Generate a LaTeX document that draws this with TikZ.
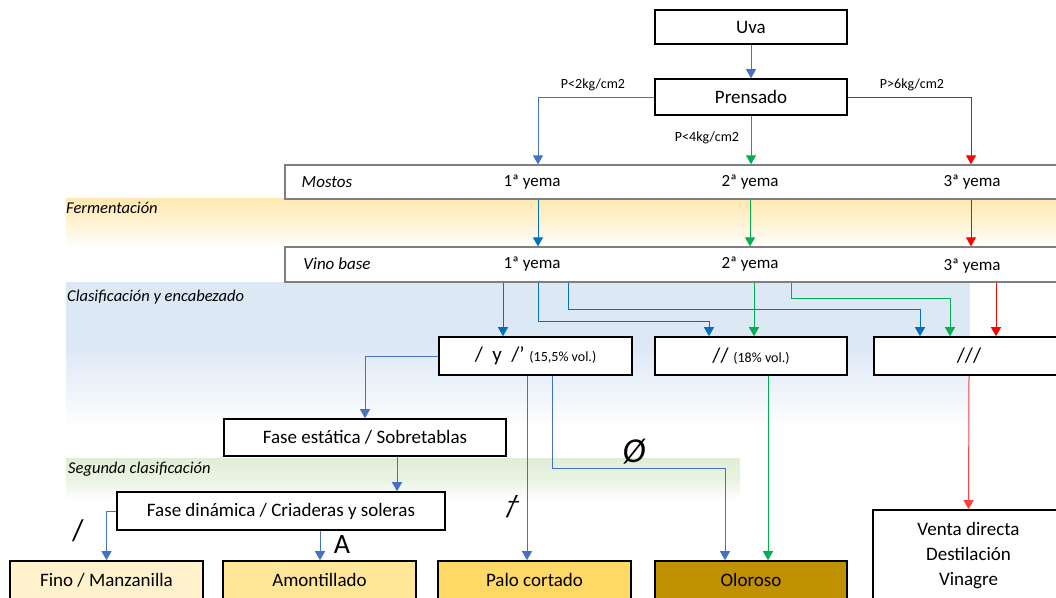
\documentclass[tikz,border=0pt]{standalone}
\usepackage{fontspec}
\setmainfont{Carlito}
\usetikzlibrary{arrows.meta,calc}
\definecolor{cblue}{HTML}{4472C4}
\definecolor{cdblue}{HTML}{0070C0}
\definecolor{cgreen}{HTML}{00B050}
\definecolor{cred}{HTML}{FF0000}
\definecolor{ferm}{HTML}{FFE8B0}
\definecolor{clas}{HTML}{DDE8F5}
\definecolor{segu}{HTML}{E0EED6}
\definecolor{fino}{HTML}{FFF2CC}
\definecolor{amon}{HTML}{FFE699}
\definecolor{palo}{HTML}{FFD966}
\definecolor{olor}{HTML}{BF9000}
\definecolor{bargray}{HTML}{7F7F7F}
\begin{document}
\begin{tikzpicture}[x=1pt,y=-1pt,
  box/.style={draw=black,line width=1.6pt,fill=white,inner sep=0pt,font=\fontsize{19}{22}\selectfont},
  bar/.style={draw=bargray,line width=1.3pt,fill=white,inner sep=0pt},
  bartext/.style={inner sep=0pt,font=\fontsize{17}{20}\selectfont},
  band/.style={inner sep=0pt,anchor=west,font=\fontsize{16.5}{19}\selectfont\itshape},
  plabel/.style={inner sep=0pt,font=\fontsize{14}{16}\selectfont},
  sym/.style={inner sep=0pt,font=\fontsize{30}{32}\selectfont},
  con/.style={line width=1pt,-{Triangle[width=10pt,length=9pt]}},
  bl/.style={con,draw=cblue},
  dbl/.style={con,draw=cdblue},
  gr/.style={con,draw=cgreen},
  rd/.style={con,draw=cred},
]
\useasboundingbox (0,0) rectangle (1056,597);
% bands
\fill[top color=ferm,bottom color=white,middle color=ferm!55] (66,198) rectangle (1056,247);
\fill[clas] (66,282) rectangle (970,345);
\fill[top color=clas,bottom color=white] (66,345) rectangle (970,430);
\fill[top color=segu,bottom color=white,middle color=segu!70] (66,458) rectangle (740,500);
\node[band] (lferm) at (66,208) {Fermentación};
\node[band] (lclas) at (67,297) {Clasificación y encabezado};
\node[band] (lsegu) at (68,469) {Segunda clasificación};
% x coordinates
\foreach \x in {320,397,503,527,538,552,568,709,725,750,754,768,791,920,950,971,996}
  \coordinate (x\x) at (\x,0);
% top boxes
\node[box,minimum width=192pt,minimum height=34pt] (uva) at (751,27) {Uva};
\node[box,minimum width=192pt,minimum height=36pt] (prensado) at (751,97) {Prensado};
% bars
\node[bar,minimum width=790pt,minimum height=34pt] (mostos) at (680,182) {};
\node[bartext,font=\fontsize{17}{20}\selectfont\itshape] (mostosl) at (327,182) {Mostos};
\node[bartext] (m1) at (532,182) {1ª yema};
\node[bartext] (m2) at (750,182) {2ª yema};
\node[bartext] (m3) at (972,182) {3ª yema};
\node[bar,minimum width=790pt,minimum height=35pt] (vino) at (680,264.5) {};
\node[bartext,font=\fontsize{17}{20}\selectfont\itshape] (vinol) at (337,264) {Vino base};
\node[bartext] (v1) at (532,264) {1ª yema};
\node[bartext] (v2) at (750,264) {2ª yema};
\node[bartext] (v3) at (972,266) {3ª yema};
% class boxes
\node[box,minimum width=193pt,minimum height=38pt] (c1) at (535.5,356) {\fontsize{21}{24}\selectfont/\ \ y\ \ /’ {\fontsize{14}{16}\selectfont(15,5\% vol.)}};
\node[box,minimum width=192pt,minimum height=38pt] (c2) at (751,356) {\fontsize{21}{24}\selectfont// {\fontsize{14}{16}\selectfont(18\% vol.)}};
\node[box,minimum width=190pt,minimum height=38pt] (c3) at (969,356) {\fontsize{21}{24}\selectfont///};
% phases
\node[box,minimum width=282pt,minimum height=37pt] (estatica) at (365,437.5) {Fase estática / Sobretablas};
\node[box,minimum width=328pt,minimum height=38pt] (dinamica) at (281,511) {Fase dinámica / Criaderas y soleras};
% final boxes
\node[box,fill=fino,minimum width=193pt,minimum height=38pt] (fino) at (106.5,580) {Fino / Manzanilla};
\node[box,fill=amon,minimum width=193pt,minimum height=38pt] (amont) at (319.5,580) {Amontillado};
\node[box,fill=palo,minimum width=193pt,minimum height=38pt] (palo) at (534.5,580) {Palo cortado};
\node[box,fill=olor,minimum width=192pt,minimum height=38pt] (oloroso) at (751,580) {Oloroso};
\node[box,minimum width=191pt,minimum height=110pt] (venta) at (968.5,565) {};
\node[box,draw=none,fill=none,align=center,font=\fontsize{19}{25}\selectfont] (ventat) at (968.5,556) {Venta directa\\Destilación\\Vinagre};
% labels
\node[plabel] (p1) at (593,85) {P<2kg/cm2};
\node[plabel] (p2) at (707,138) {P<4kg/cm2};
\node[plabel] (p3) at (912,85) {P>6kg/cm2};
\node[sym] (sfino) at (78,531) {/};
\node[sym,font=\fontsize{28}{30}\selectfont] (samon) at (342,545) {A};
\node[sym,font=\fontsize{35}{36}\selectfont] (soloroso) at (634,452) {\itshape Ø};
\node[sym,xslant=0.45,font=\fontsize{26}{28}\selectfont] (spalo) at (512,507) {†};
% connectors
\draw[bl] (uva) -- (prensado);
\draw[bl] (prensado.west) -| (x538 |- mostos.north);
\draw[gr] (prensado.south) -- (prensado.south |- mostos.north);
\draw[rd] (prensado.east) -| (x971 |- mostos.north);
\draw[dbl] (x538 |- mostos.south) -- (x538 |- vino.north);
\draw[gr] (x750 |- mostos.south) -- (x750 |- vino.north);
\draw[rd] (x971 |- mostos.south) -- (x971 |- vino.north);
\draw[dbl] (x503 |- vino.south) -- (x503 |- c1.north);
\draw[dbl] (x538 |- vino.south) |- (709,321) -- (x709 |- c2.north);
\draw[dbl] (x568 |- vino.south) |- (920,309) -- (x920 |- c3.north);
\draw[gr] (x754 |- vino.south) -- (x754 |- c2.north);
\draw[gr] (x791 |- vino.south) |- (950,298) -- (x950 |- c3.north);
\draw[rd] (x996 |- vino.south) -- (x996 |- c3.north);
\draw[bl] (c1.west) -| (estatica.north);
\draw[bl] (x397 |- estatica.south) -- (x397 |- dinamica.north);
\draw[bl] (dinamica.west) -| (fino.north);
\draw[bl] (x320 |- dinamica.south) -- (x320 |- amont.north);
\draw[bl] (x527 |- c1.south) -- (x527 |- palo.north);
\draw[bl] (x552 |- c1.south) |- (725,468) -- (x725 |- oloroso.north);
\draw[gr] (x768 |- c2.south) -- (x768 |- oloroso.north);
\draw[rd,draw=cred!75] (c3.south) -- (venta.north);
\end{tikzpicture}
\end{document}
